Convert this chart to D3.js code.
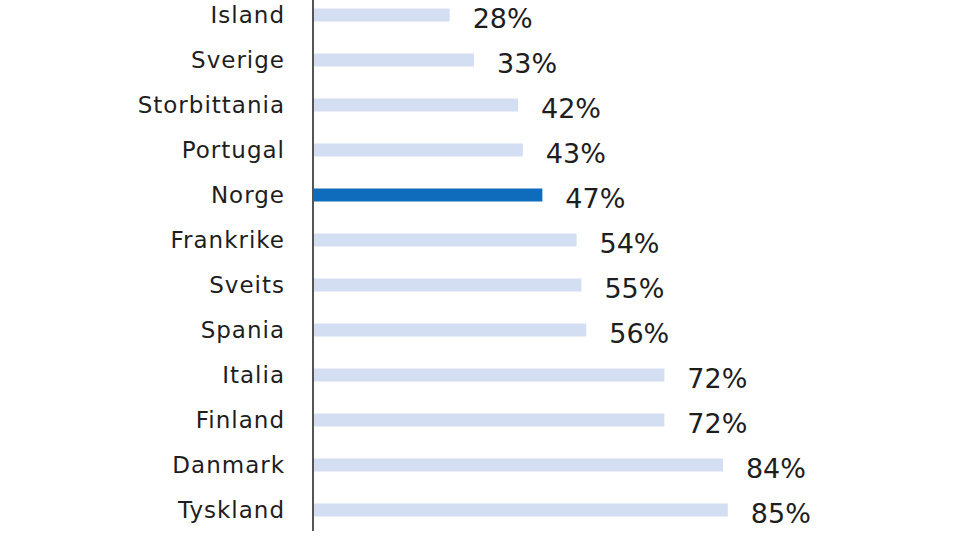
<!DOCTYPE html>
<html>
<head>
<meta charset="utf-8">
<script src="https://cdn.jsdelivr.net/npm/d3@7"></script>
<style>
  html, body { margin: 0; padding: 0; background: #fff; }
  svg { display: block; }
</style>
</head>
<body>
<svg id="chart" width="960" height="548"></svg>
<script>
const categories = ["Island", "Sverige", "Storbittania", "Portugal", "Norge", "Frankrike", "Sveits", "Spania", "Italia", "Finland", "Danmark", "Tyskland"];
const values = [28, 33, 42, 43, 47, 54, 55, 56, 72, 72, 84, 85];
const highlight = ["Norge"];

const svg = d3.select("#chart");
const axisX = 313;

const x = d3.scaleLinear().domain([0, 100]).range([axisX, axisX + 488]);
const y = d3.scalePoint().domain(categories).range([15, 510]);
const barH = 13;

const data = categories.map((c, i) => ({ c, v: values[i] }));

svg.selectAll("rect.bar").data(data).join("rect")
  .attr("class", "bar")
  .attr("x", x(0))
  .attr("y", d => y(d.c) - barH / 2)
  .attr("width", d => x(d.v) - x(0))
  .attr("height", barH)
  .attr("fill", d => highlight.includes(d.c) ? "#0f6cbd" : "#d3def3");

svg.selectAll("text.val").data(data).join("text")
  .attr("class", "val")
  .attr("x", d => x(d.v) + 23)
  .attr("y", d => y(d.c) + 13)
  .attr("font-family", "DejaVu Sans, sans-serif")
  .attr("font-size", 27)
  .attr("fill", "#1e1e1e")
  .text(d => d.v + "%");

const yAxis = d3.axisLeft(y).tickSize(0).tickPadding(28);
const g = svg.append("g").attr("transform", `translate(${axisX},0)`).call(yAxis);
g.select(".domain").remove();
g.selectAll("text")
  .attr("font-family", "DejaVu Sans, sans-serif")
  .attr("font-size", 23)
  .attr("letter-spacing", 1)
  .attr("fill", "#1e1e1e")
  .attr("dy", null)
  .attr("y", 7);

svg.append("line")
  .attr("x1", axisX).attr("x2", axisX)
  .attr("y1", 0).attr("y2", 531)
  .attr("stroke", "#555")
  .attr("stroke-width", 2);
</script>
</body>
</html>
